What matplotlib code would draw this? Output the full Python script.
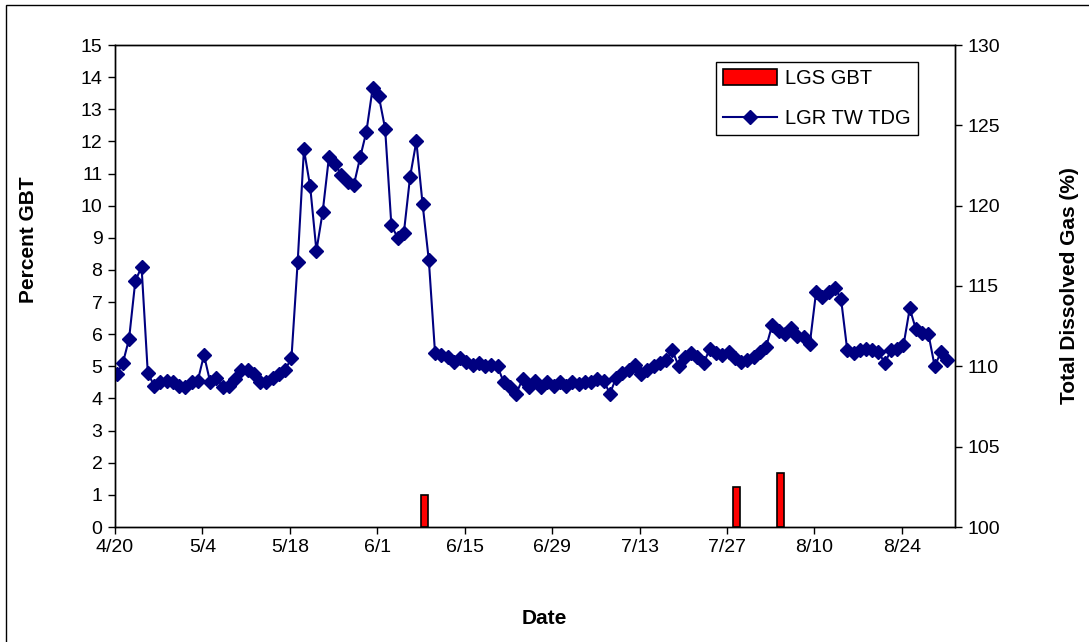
import matplotlib
matplotlib.use("Agg")
import matplotlib.pyplot as plt
from matplotlib.patches import Rectangle
from matplotlib.lines import Line2D
import pandas as pd

# -----------------------------
# Data
# -----------------------------
start_date = "2006-04-20"

# LGR tailwater TDG (%), one value per day from 4/20
tdg = [
    109.5, 110.2, 111.7, 115.3, 116.2, 109.6, 108.8, 109.0, 109.1, 109.0,
    108.8, 108.7, 109.0, 109.1, 110.7, 109.0, 109.3, 108.7, 108.8, 109.2,
    109.8, 109.8, 109.5, 109.0, 109.0, 109.3, 109.5, 109.8, 110.5, 116.5,
    123.5, 121.2, 117.2, 119.6, 123.0, 122.6, 121.9, 121.5, 121.3, 123.0,
    124.6, 127.3, 126.8, 124.8, 118.8, 118.0, 118.3, 121.8, 124.0, 120.1,
    116.6, 110.8, 110.7, 110.6, 110.3, 110.5, 110.3, 110.1, 110.2, 110.0,
    110.1, 110.0, 109.0, 108.7, 108.3, 109.2, 108.7, 109.1, 108.7, 109.0,
    108.8, 109.0, 108.8, 109.0, 108.9, 109.0, 109.0, 109.2, 109.1, 108.3,
    109.3, 109.6, 109.8, 110.1, 109.5, 109.8, 110.0, 110.2, 110.4, 111.0,
    110.0, 110.6, 110.8, 110.6, 110.2, 111.1, 110.8, 110.7, 110.9, 110.5,
    110.3, 110.4, 110.6, 110.9, 111.2, 112.6, 112.2, 112.0, 112.4, 111.9,
    111.8, 111.4, 114.6, 114.3, 114.6, 114.9, 114.2, 111.0, 110.8, 111.0,
    111.1, 111.0, 110.9, 110.2, 111.0, 111.1, 111.3, 113.6, 112.3, 112.1,
    112.0, 110.0, 110.9, 110.4,
]

# LGS gas bubble trauma (%)
gbt_dates = ["2006-06-08", "2006-07-28", "2006-08-04"]
gbt_values = [1.0, 1.25, 1.68]

tick_dates = pd.date_range(start_date, "2006-08-24", freq="14D")

dates = pd.date_range(start_date, periods=len(tdg), freq="D") + pd.Timedelta(hours=6)
bar_x = pd.to_datetime(gbt_dates) + pd.Timedelta(hours=12)

# -----------------------------
# Figure
# -----------------------------
plt.rcParams["font.family"] = ["Liberation Sans", "DejaVu Sans"]

W, H = 1089, 642
fig = plt.figure(figsize=(W / 100, H / 100), dpi=100)
ax = fig.add_axes([115 / W, 1 - 527 / H, (955 - 115) / W, (527 - 45) / H])
ax2 = ax.twinx()

navy = "#000080"

ax.bar(bar_x, gbt_values, width=1.1, color="#ff0000",
       edgecolor="black", linewidth=1.2, zorder=3)

ax2.plot(dates, tdg, color=navy, linewidth=1.5, marker="D",
         markersize=7.5, markerfacecolor=navy, markeredgecolor=navy)

# axes limits / ticks
x0 = pd.Timestamp(start_date)
ax.set_xlim(x0, x0 + pd.Timedelta(days=134.5))
ax.set_ylim(0, 15)
ax.set_yticks(range(0, 16))
ax2.set_ylim(100, 130)
ax2.set_yticks(range(100, 131, 5))

ax.set_xticks(tick_dates)
ax.set_xticklabels([f"{d.month}/{d.day}" for d in tick_dates])

for a in (ax, ax2):
    a.tick_params(direction="out", length=5, width=1, labelsize=14, pad=4)
    for s in a.spines.values():
        s.set_linewidth(1.0)

ax.set_ylabel("Percent GBT", fontsize=15, fontweight="bold")
ax.yaxis.set_label_coords(38 / W, 1 - 240 / H, transform=fig.transFigure)
ax2.set_ylabel("Total Dissolved Gas (%)", fontsize=15, fontweight="bold",
               rotation=90)
ax2.yaxis.set_label_coords(1060 / W, 1 - 286 / H, transform=fig.transFigure)
ax.set_xlabel("Date", fontsize=15, fontweight="bold")
ax.xaxis.set_label_coords(0.5, 1 - 609 / H, transform=fig.transFigure)

# legend
handles = [
    Rectangle((0, 0), 1, 1, facecolor="#ff0000", edgecolor="black", linewidth=1.2),
    Line2D([], [], color=navy, linewidth=1.5, marker="D", markersize=7.5),
]
leg = ax2.legend(handles, ["LGS GBT", "LGR TW TDG"], loc="upper left",
                 bbox_to_anchor=(716 / W, 1 - 62 / H),
                 bbox_transform=fig.transFigure, fontsize=14.5,
                 frameon=True, fancybox=False, framealpha=1,
                 edgecolor="black", borderpad=0.35, labelspacing=1.05,
                 handlelength=2.7, handleheight=0.8, handletextpad=0.4,
                 borderaxespad=0)
leg.get_frame().set_linewidth(1.0)

# outer chart border (left and top visible)
fig.patches.append(Rectangle((6 / W, -0.1), 1.5, 1.1 - 5 / H,
                             transform=fig.transFigure, fill=False,
                             edgecolor="black", linewidth=1.0))

fig.savefig("out.png", dpi=100)
